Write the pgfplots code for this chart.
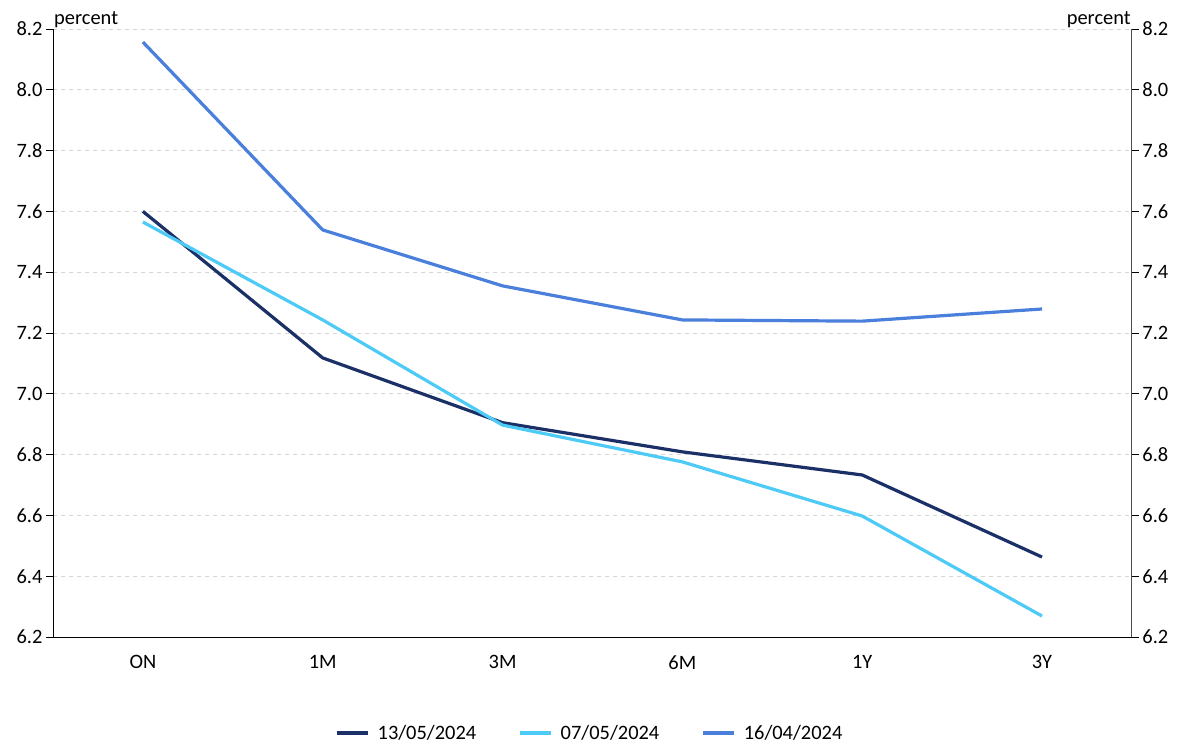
\documentclass[border=0pt]{standalone}
\usepackage{pgfplots}
\pgfplotsset{compat=1.18}
\usepackage{fontspec}
\setmainfont{Carlito}
\definecolor{navy}{HTML}{1B3067}
\definecolor{lblue}{HTML}{4DCAF6}
\definecolor{mblue}{HTML}{4A7FDC}
\begin{document}
\begin{tikzpicture}
\pgfplotsset{every axis/.append style={
  scale only axis, width=1079bp, height=608bp,
  xmin=-0.5, xmax=5.5, ymin=6.2, ymax=8.2,
  ytick={6.2,6.4,...,8.21},
  /pgf/number format/.cd, fixed, fixed zerofill, precision=1, assume math mode=true,
  /pgfplots/.cd,
  tick label style={font=\fontsize{20.5}{24}\selectfont},
  tick align=outside, major tick length=7bp,
  every tick/.style={black, line width=0.8bp},
}}
\begin{axis}[
  clip=false,
  axis x line*=bottom, axis y line*=left,
  axis line style={black, line width=1bp},
  xtick=data, xticklabels={ON,1M,3M,6M,1Y,3Y},
  x tick style={draw=none},
  xticklabel style={yshift=-8bp},
  ymajorgrids, grid style={dash pattern=on 4bp off 4bp, color=black!16, line width=0.8bp},
  legend style={draw=none, at={(0.4975,-0.138)}, anchor=north, legend columns=3,
    font=\fontsize{20.5}{24}\selectfont,
    /tikz/every even column/.append style={column sep=40bp}},
  legend image code/.code={\draw[#1, line width=3.5bp] (0bp,0bp) -- (31bp,0bp);},
  legend cell align=left,
  every legend entry/.append style={xshift=6bp},
]
\addplot[navy, line width=3.2bp] coordinates {(0,7.600) (1,7.118) (2,6.905) (3,6.809) (4,6.733) (5,6.463)};
\addlegendentry{\hspace*{6bp}13/05/2024}
\addplot[lblue, line width=3.2bp] coordinates {(0,7.565) (1,7.243) (2,6.897) (3,6.776) (4,6.598) (5,6.269)};
\addlegendentry{\hspace*{6bp}07/05/2024}
\addplot[mblue, line width=3.2bp] coordinates {(0,8.157) (1,7.539) (2,7.355) (3,7.243) (4,7.239) (5,7.279)};
\addlegendentry{\hspace*{6bp}16/04/2024}
\node[anchor=south west, font=\fontsize{20.5}{24}\selectfont, inner sep=1bp] at (rel axis cs:0,1) {percent};
\node[anchor=south east, font=\fontsize{20.5}{24}\selectfont, inner sep=1bp] at (rel axis cs:1,1) {percent};
\end{axis}
\begin{axis}[
  axis x line=none, axis y line*=right,
  axis line style={black!70, line width=1bp},
]
\end{axis}
\path (-53bp,-107bp) rectangle (1130bp,637bp);
\end{tikzpicture}
\end{document}
